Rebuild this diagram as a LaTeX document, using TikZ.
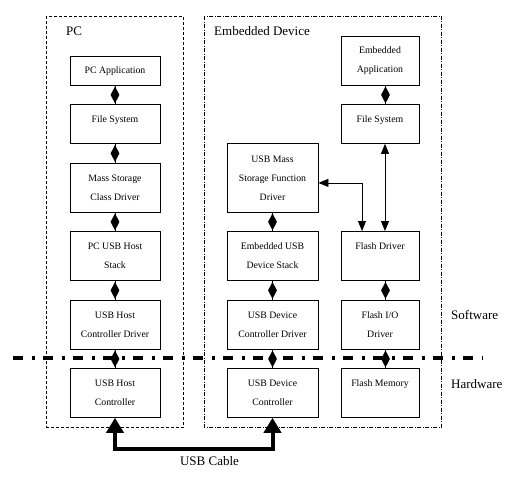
\documentclass[tikz,border=0pt]{standalone}
\usepackage{fontspec}
\setmainfont{Liberation Serif}
\usetikzlibrary{positioning,shapes.geometric,arrows.meta}

\begin{document}
\begin{tikzpicture}[x=1pt,y=-1pt,
	blk/.style={draw,line width=0.8pt,anchor=north,align=center,inner sep=0pt,font=\fontsize{9.8}{19}\selectfont},
	pcw/.style={minimum width=90pt},
	usbw/.style={minimum width=91pt},
	flw/.style={minimum width=78pt},
	tall/.style={minimum height=#1},
	oneline/.style={text height=18.3pt,text depth=#1},
	dmd/.style={diamond,fill,inner sep=0pt,minimum width=9pt,minimum height=17pt},
	dbl/.style={line width=0.8pt,{Triangle[width=8pt,length=10pt]}-{Triangle[width=8pt,length=10pt]}},
	cable/.style={line width=4pt,{Triangle[width=17pt,length=15pt]}-{Triangle[width=17pt,length=15pt]}},
	lbl/.style={inner sep=0pt,font=\fontsize{13}{15}\selectfont},
	pcgrp/.style={line width=0.7pt,dash pattern=on 3pt off 2pt},
	embgrp/.style={line width=0.7pt,dash pattern=on 4pt off 1.5pt on 1pt off 1.5pt},
	sep/.style={line width=3.5pt,dash pattern=on 10pt off 8.5pt on 3pt off 8.5pt}]
		\useasboundingbox (0,0) rectangle (514,485);

		% groups
		\draw[pcgrp]	(46.5,16) rectangle (183,427);
		\draw[embgrp]	(204,16) rectangle (441.5,427);
		\node[lbl,anchor=west]	(pclbl)		at (66,31)		{PC};
		\node[lbl,anchor=west]	(emblbl)	at (214,31)		{Embedded Device};

		% PC stack
		\node[blk,pcw,tall=29pt]			(pcapp)		at (115,56)		{PC Application};
		\node[blk,pcw,oneline=20.7pt]		(pcfs)		at (115,104)	{File System};
		\node[blk,pcw,tall=49pt]			(pcmsc)		at (115,163)	{Mass Storage\\Class Driver};
		\node[blk,pcw,tall=49pt]			(pchost)	at (115,231)	{PC USB Host\\Stack};
		\node[blk,pcw,tall=49pt]			(pchcd)		at (115,300)	{USB Host\\Controller Driver};
		\node[blk,pcw,tall=49pt]			(pchc)		at (115,368)	{USB Host\\Controller};

		% device, USB side
		\node[blk,usbw,tall=69pt]			(usbmsf)	at (272.5,143)	{USB Mass\\Storage Function\\Driver};
		\node[blk,usbw,tall=49pt]			(usbstack)	at (272.5,231)	{Embedded USB\\Device Stack};
		\node[blk,usbw,tall=49pt]			(usbdcd)	at (272.5,300)	{USB Device\\Controller Driver};
		\node[blk,usbw,tall=49pt]			(usbdc)		at (272.5,368)	{USB Device\\Controller};

		% device, flash side
		\node[blk,flw,tall=49pt]			(embapp)	at (380,36)		{Embedded\\Application};
		\node[blk,flw,oneline=20.7pt]		(embfs)		at (380,104)	{File System};
		\node[blk,flw,oneline=30.7pt]		(flashdrv)	at (380,231)	{Flash Driver};
		\node[blk,flw,tall=49pt]			(flashio)	at (380,300)	{Flash I/O\\Driver};
		\node[blk,flw,oneline=30.7pt]		(flashmem)	at (380,368)	{Flash Memory};

		% software / hardware line
		\coordinate (sepL) at (13,358);
		\coordinate (sepR) at (482,358);
		\draw[sep] (sepL) -- (sepR);
		\node[lbl,anchor=west]	(swlbl)		at (451,315)	{Software};
		\node[lbl,anchor=west]	(hwlbl)		at (451,384)	{Hardware};

		% links
		\draw (pcapp) -- (pcfs) node[midway,dmd] {};
		\draw (pcfs) -- (pcmsc) node[midway,dmd] {};
		\draw (pcmsc) -- (pchost) node[midway,dmd] {};
		\draw (pchost) -- (pchcd) node[midway,dmd] {};
		\draw (pchcd) -- (pchc) node[midway,dmd] {};
		\draw (usbmsf) -- (usbstack) node[midway,dmd] {};
		\draw (usbstack) -- (usbdcd) node[midway,dmd] {};
		\draw (usbdcd) -- (usbdc) node[midway,dmd] {};
		\draw ([xshift=5.5pt]embapp.south) -- ([xshift=5.5pt]embfs.north) node[midway,dmd] {};
		\draw ([xshift=5.5pt]flashdrv.south) -- ([xshift=5.5pt]flashio.north) node[midway,dmd] {};
		\draw ([xshift=5.5pt]flashio.south) -- ([xshift=5.5pt]flashmem.north) node[midway,dmd] {};

		\draw[dbl] ([xshift=5pt]embfs.south) -- ([xshift=5pt]flashdrv.north);
		\draw[dbl] ([xshift=-18pt]flashdrv.north) |- ([yshift=-5pt]usbmsf.east);

		% usb cable
		\draw[cable] (pchc.south) -- ++(0,31) -| (usbdc.south);
		\node[lbl]	(cablelbl)	at (209.5,461)	{USB Cable};
	\end{tikzpicture}
\end{document}
